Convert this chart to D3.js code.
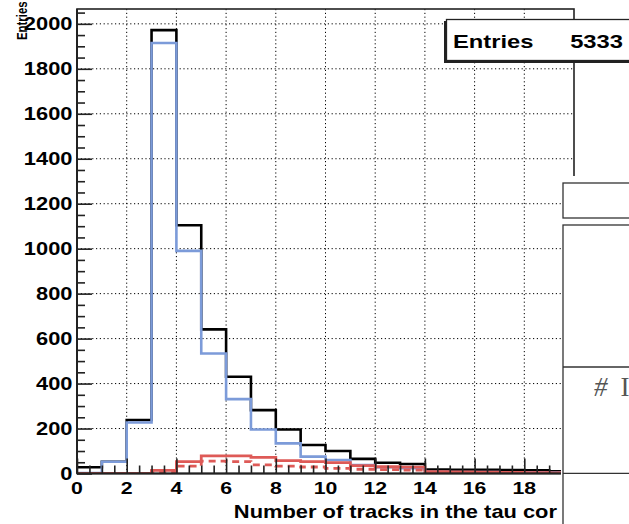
<!DOCTYPE html>
<html>
<head>
<meta charset="utf-8">
<script src="https://cdn.jsdelivr.net/npm/d3@7"></script>
<style>
  html, body { margin: 0; padding: 0; background: #fff; }
  svg { display: block; }
  text { font-family: "Liberation Sans", Arial, Helvetica, sans-serif; font-weight: bold; fill: #000; }
</style>
</head>
<body>
<svg id="chart" width="629" height="524"></svg>
<script>
// Bin lower edges (track multiplicity, unit-width bins)
const binEdges = [0, 1, 2, 3, 4, 5, 6, 7, 8, 9, 10, 11, 12, 13, 14, 15, 16, 17, 18, 19, 20];

// Entries per bin for each histogram
const totalCounts   = [28, 52, 238, 1972, 1104, 641, 430, 282, 196, 127, 100, 65, 48, 42, 18, 17, 16, 15, 14, 10];
const blueCounts    = [2, 52, 227, 1915, 990, 534, 331, 196, 134, 75, 60, 38, 28, 24, 8, 7, 6, 5, 5, 4];
const redCounts     = [0, 0, 0, 14, 53, 78, 78, 72, 57, 53, 48, 35, 30, 28, 8, 7, 6, 5, 4, 3];
const redDashCounts = [0, 0, 0, 8, 33, 55, 53, 38, 33, 29, 23, 19, 17, 15, 6, 5, 4, 4, 3, 2];

// Axis ticks and labels
const xMajorTicks = [0, 2, 4, 6, 8, 10, 12, 14, 16, 18];
const xTickLabels = ["0", "2", "4", "6", "8", "10", "12", "14", "16", "18"];
const yMajorTicks = [0, 200, 400, 600, 800, 1000, 1200, 1400, 1600, 1800, 2000];
const yTickLabels = ["0", "200", "400", "600", "800", "1000", "1200", "1400", "1600", "1800", "2000"];

const xTitle = "Number of tracks in the tau cor";
const yTitle = "Entries";
const statsLabel = "Entries";
const statsValue = "5333";

const svg = d3.select("#chart");
const frame = { left: 77, right: 574, top: 9, bottom: 473.5 };
const SX = 1.25; // horizontal glyph stretch

const x = d3.scaleLinear().domain([0, 20]).range([frame.left, frame.right]);
const y = d3.scaleLinear().domain([0, 2066]).range([frame.bottom, frame.top]);

svg.append("defs").append("clipPath").attr("id", "plotClip")
  .append("rect")
  .attr("x", frame.left).attr("y", frame.top)
  .attr("width", frame.right - frame.left).attr("height", frame.bottom - frame.top);

// Dotted grid
const grid = svg.append("g").attr("stroke", "#000").attr("stroke-width", 1)
  .attr("stroke-dasharray", "1.2,2.6");
grid.selectAll("line.gx").data(xMajorTicks.filter(d => d > 0)).join("line")
  .attr("x1", d => x(d)).attr("x2", d => x(d))
  .attr("y1", frame.top).attr("y2", frame.bottom);
grid.selectAll("line.gy").data(yMajorTicks.filter(d => d > 0)).join("line")
  .attr("x1", frame.left).attr("x2", frame.right)
  .attr("y1", d => y(d)).attr("y2", d => y(d));

// Step histograms
function stepPoints(counts) {
  const pts = counts.map((c, i) => [binEdges[i], c]);
  pts.push([binEdges[counts.length], counts[counts.length - 1]]);
  return pts;
}
const stepLine = d3.line().x(d => x(d[0])).y(d => y(d[1])).curve(d3.curveStepAfter);

const hists = svg.append("g").attr("clip-path", "url(#plotClip)").attr("fill", "none");
hists.append("path").attr("d", stepLine(stepPoints(totalCounts)))
  .attr("stroke", "#000").attr("stroke-width", 2.6);
hists.append("path").attr("d", stepLine(stepPoints(blueCounts)))
  .attr("stroke", "#7c9bd9").attr("stroke-width", 2.6);
hists.append("path").attr("d", stepLine(stepPoints(redCounts)))
  .attr("stroke", "#de5a57").attr("stroke-width", 2.8);
hists.append("path").attr("d", stepLine(stepPoints(redDashCounts)))
  .attr("stroke", "#de5a57").attr("stroke-width", 2.8).attr("stroke-dasharray", "7,5");

// Frame
svg.append("rect")
  .attr("x", frame.left).attr("y", frame.top)
  .attr("width", frame.right - frame.left).attr("height", frame.bottom - frame.top)
  .attr("fill", "none").attr("stroke", "#222").attr("stroke-width", 1.6);

// Axes: ticks pointing into the frame
const xMinor = d3.range(0, 20.01, 0.5).filter(v => !xMajorTicks.includes(v));
const yMinor = d3.range(0, 2066, 50).filter(v => !yMajorTicks.includes(v));

const gx = svg.append("g").attr("transform", `translate(0,${frame.bottom})`);
gx.call(d3.axisBottom(x).tickValues(xMajorTicks).tickSize(-15).tickFormat(""));
gx.call(g => g.select(".domain").remove());
const gxm = svg.append("g").attr("transform", `translate(0,${frame.bottom})`);
gxm.call(d3.axisBottom(x).tickValues(xMinor).tickSize(-8).tickFormat(""));
gxm.call(g => g.select(".domain").remove());

const gy = svg.append("g").attr("transform", `translate(${frame.left},0)`);
gy.call(d3.axisLeft(y).tickValues(yMajorTicks).tickSize(-15).tickFormat(""));
gy.call(g => g.select(".domain").remove());
const gym = svg.append("g").attr("transform", `translate(${frame.left},0)`);
gym.call(d3.axisLeft(y).tickValues(yMinor).tickSize(-8).tickFormat(""));
gym.call(g => g.select(".domain").remove());
svg.selectAll(".tick line").attr("stroke", "#222").attr("stroke-width", 1.6);

// Axis lines drawn heavier
svg.append("line").attr("x1", frame.left).attr("x2", frame.right)
  .attr("y1", frame.bottom).attr("y2", frame.bottom).attr("stroke", "#222").attr("stroke-width", 2);
svg.append("line").attr("x1", frame.left).attr("x2", frame.left)
  .attr("y1", frame.top).attr("y2", frame.bottom).attr("stroke", "#222").attr("stroke-width", 2);

// Tick labels
svg.append("g").selectAll("text").data(xMajorTicks).join("text")
  .attr("transform", d => `translate(${x(d)},493.5) scale(${SX},1)`)
  .attr("text-anchor", "middle").attr("font-size", 17)
  .text((d, i) => xTickLabels[i]);
svg.append("g").selectAll("text").data(yMajorTicks).join("text")
  .attr("transform", d => `translate(72.5,${y(d) + 6.5}) scale(${SX},1)`)
  .attr("text-anchor", "end").attr("font-size", 17.5)
  .text((d, i) => yTickLabels[i]);

// Axis titles
svg.append("text")
  .attr("transform", `translate(557,518) scale(${SX},1)`)
  .attr("text-anchor", "end").attr("font-size", 17.5)
  .text(xTitle);
svg.append("text")
  .attr("transform", `translate(26.5,40) rotate(-90) scale(1,1.3)`)
  .attr("text-anchor", "start").attr("font-size", 11.4)
  .text(yTitle);

// Statistics box
svg.append("rect").attr("x", 444).attr("y", 21).attr("width", 220).attr("height", 42).attr("fill", "#222");
svg.append("rect").attr("x", 446.5).attr("y", 19.5).attr("width", 220).attr("height", 41)
  .attr("fill", "#fff").attr("stroke", "#222").attr("stroke-width", 1.3);
svg.append("text").attr("transform", `translate(453,48.3) scale(${SX},1)`)
  .attr("font-size", 19).text(statsLabel);
svg.append("text").attr("transform", `translate(623,48.3) scale(${SX},1)`)
  .attr("text-anchor", "end").attr("font-size", 19).text(statsValue);

// Side panels on the right
svg.append("rect").attr("x", 561).attr("y", 176).attr("width", 80).attr("height", 360).attr("fill", "#fff");
svg.append("rect").attr("x", 563).attr("y", 183).attr("width", 80).attr("height", 35)
  .attr("fill", "#fff").attr("stroke", "#333").attr("stroke-width", 1.3);
svg.append("rect").attr("x", 563).attr("y", 225).attr("width", 80).attr("height", 320)
  .attr("fill", "#fff").attr("stroke", "#333").attr("stroke-width", 1.3);
svg.append("line").attr("x1", 563).attr("x2", 640).attr("y1", 367).attr("y2", 367)
  .attr("stroke", "#333").attr("stroke-width", 1.3);
svg.append("line").attr("x1", 563).attr("x2", 640).attr("y1", 473.3).attr("y2", 473.3)
  .attr("stroke", "#333").attr("stroke-width", 1.3);
const hashLabel = svg.append("text").attr("x", 594).attr("y", 396)
  .style("font-family", "'Liberation Serif', 'DejaVu Serif', serif")
  .style("font-weight", "normal").style("font-style", "italic")
  .attr("font-size", 27).style("fill", "#555");
hashLabel.append("tspan").text("#");
hashLabel.append("tspan").attr("dx", 13).style("font-style", "normal").text("I");
</script>
</body>
</html>
